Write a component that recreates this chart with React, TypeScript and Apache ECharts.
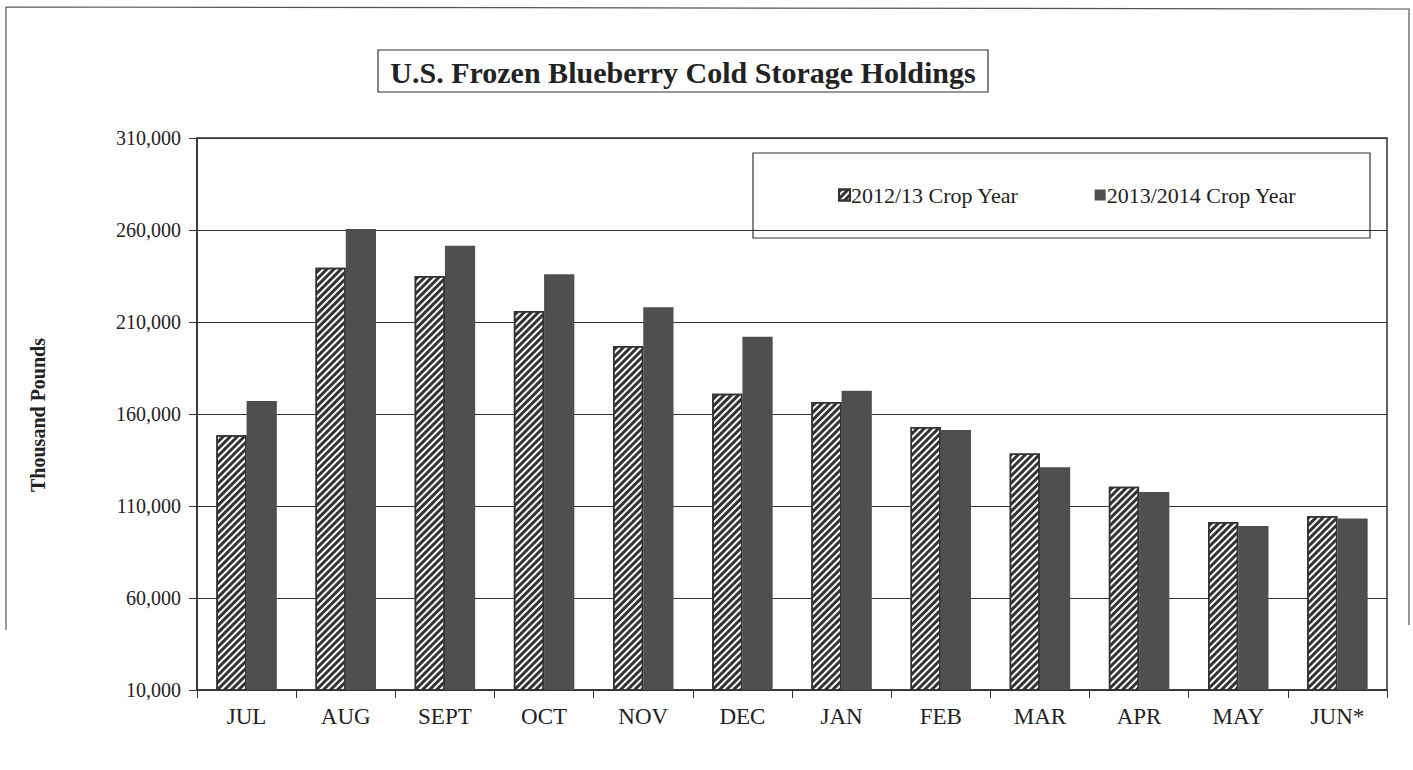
import React, { useEffect, useRef } from "react";
import * as echarts from "echarts";

const categories = ["JUL", "AUG", "SEPT", "OCT", "NOV", "DEC", "JAN", "FEB", "MAR", "APR", "MAY", "JUN*"];
const crop2012 = [148500, 239500, 235000, 216000, 197000, 171000, 166500, 153000, 138500, 120500, 101300, 104600];
const crop2014 = [167000, 260500, 251500, 236000, 218000, 202000, 172700, 151300, 131000, 117600, 99100, 103200];
const seriesNames = ["2012/13 Crop Year", "2013/2014 Crop Year"];
const yMin = 10000;
const yMax = 310000;
const yStep = 50000;
const titleText = "U.S. Frozen Blueberry Cold Storage Holdings";
const yAxisName = "Thousand Pounds";

const FONT = "'Liberation Serif', 'Times New Roman', serif";

export default function App() {
  const ref = useRef<HTMLDivElement>(null);
  useEffect(() => {
    if (!ref.current) return;
    const chart = echarts.init(ref.current, null, { renderer: "svg" });
    const fmt = (v: number) => v.toLocaleString("en-US");
    chart.setOption({
      animation: false,
      backgroundColor: "#ffffff",
      textStyle: { fontFamily: FONT, color: "#222" },
      grid: {
        left: 197,
        top: 138,
        right: 26,
        bottom: 80,
        show: true,
        borderColor: "#333",
        borderWidth: 1.5,
        backgroundColor: "transparent",
      },
      legend: {
        left: 838,
        top: 184,
        padding: 0,
        itemWidth: 11,
        itemHeight: 11,
        itemGap: 76,
        textStyle: { fontFamily: FONT, fontSize: 22, color: "#222", padding: [0, 0, 0, -4] },
        data: [
          { name: seriesNames[0], icon: "rect" },
          { name: seriesNames[1], icon: "rect" },
        ],
      },
      xAxis: {
        type: "category",
        data: categories,
        boundaryGap: true,
        axisLine: { lineStyle: { color: "#333", width: 1.5 } },
        axisTick: { show: true, length: 8, lineStyle: { color: "#333" } },
        axisLabel: { fontFamily: FONT, fontSize: 23, color: "#222", margin: 15 },
      },
      yAxis: {
        type: "value",
        min: yMin,
        max: yMax,
        interval: yStep,
        axisLine: { show: true, lineStyle: { color: "#333", width: 1.5 } },
        axisTick: { show: true, length: 8, lineStyle: { color: "#333" } },
        axisLabel: { fontFamily: FONT, fontSize: 20, color: "#222", margin: 16, formatter: fmt },
        splitLine: { show: true, lineStyle: { color: "#333", width: 1 } },
      },
      series: [
        {
          name: seriesNames[0],
          type: "bar",
          data: crop2012,
          barGap: "0%",
          barCategoryGap: "39%",
          itemStyle: {
            color: "#ffffff",
            borderColor: "#333",
            borderWidth: 1.5,
            decal: {
              symbol: "rect",
              symbolSize: 1,
              color: "#333",
              dashArrayX: [1, 0],
              dashArrayY: [3, 1.4],
              rotation: -Math.PI / 4,
            },
          },
        },
        {
          name: seriesNames[1],
          type: "bar",
          data: crop2014,
          barGap: "0%",
          barCategoryGap: "39%",
          itemStyle: { color: "#4f4f4f" },
        },
      ],
      graphic: [
        {
          type: "polyline",
          silent: true,
          shape: { points: [[6, 630], [6, 7], [1409, 9], [1409, 625]] },
          style: { stroke: "#555", lineWidth: 1.2, fill: null },
        },
        {
          type: "rect",
          silent: true,
          shape: { x: 378, y: 50, width: 610, height: 42 },
          style: { fill: "#fff", stroke: "#333", lineWidth: 1.2 },
        },
        {
          type: "text",
          silent: true,
          x: 683,
          y: 72,
          style: {
            text: titleText,
            fontFamily: FONT,
            fontSize: 30,
            fontWeight: "bold",
            fill: "#222",
            align: "center",
            verticalAlign: "middle",
          },
        },
        {
          type: "rect",
          silent: true,
          z: -1,
          shape: { x: 753, y: 153, width: 617, height: 85 },
          style: { fill: "#fff", stroke: "#333", lineWidth: 1.2 },
        },
        {
          type: "text",
          silent: true,
          x: 38,
          y: 415,
          rotation: Math.PI / 2,
          style: {
            text: yAxisName,
            fontFamily: FONT,
            fontSize: 20,
            fontWeight: "bold",
            fill: "#222",
            align: "center",
            verticalAlign: "middle",
          },
        },
      ],
    });
    return () => chart.dispose();
  }, []);
  return (
    <div
      ref={ref}
      style={{ position: "fixed", left: 0, top: 0, width: 1413, height: 770 }}
    />
  );
}
